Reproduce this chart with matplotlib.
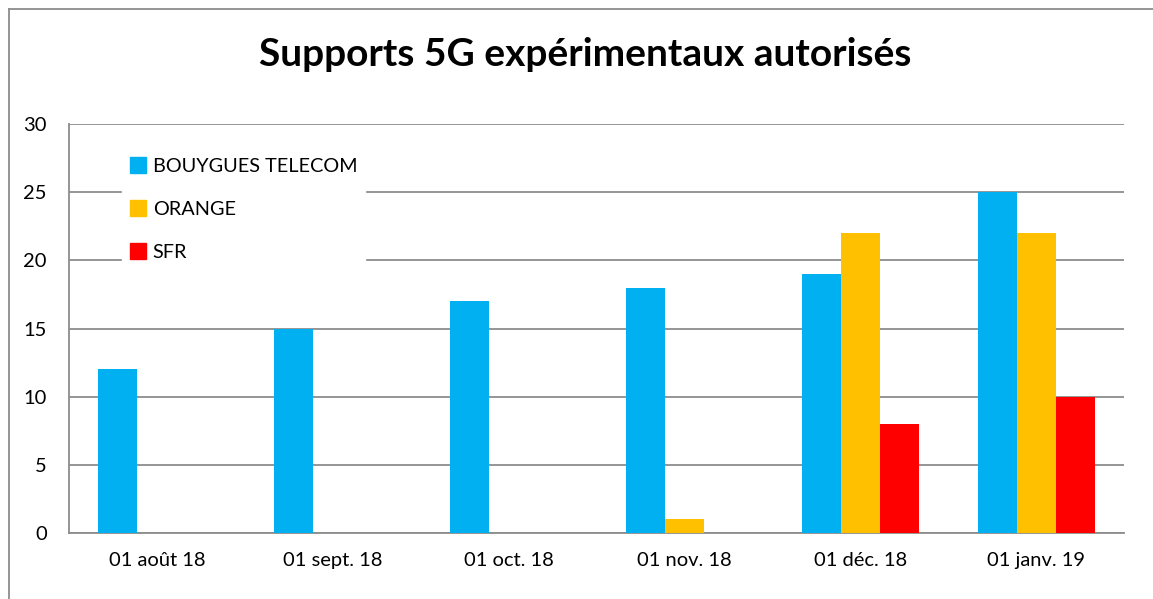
import numpy as np
from matplotlib import pyplot as plt
from matplotlib.lines import Line2D

plt.rcParams['font.family'] = ['Lato', 'DejaVu Sans']

dates = ['01 août 18', '01 sept. 18', '01 oct. 18', '01 nov. 18', '01 déc. 18', '01 janv. 19']
bouygues = [12, 15, 17, 18, 19, 25]
orange = [0, 0, 0, 1, 22, 22]
sfr = [0, 0, 0, 0, 8, 10]

series = [('BOUYGUES TELECOM', bouygues, '#00B0F0'),
          ('ORANGE', orange, '#FFC000'),
          ('SFR', sfr, '#FF0000')]

W, H = 1153, 599
fig = plt.figure(figsize=(W / 100, H / 100), dpi=100)
ax = fig.add_axes([69 / W, 1 - 533 / H, (1124 - 69) / W, (533 - 124) / H])

x = np.arange(len(dates))
width = 0.222
for i, (name, vals, col) in enumerate(series):
    ax.bar(x + (i - 1) * width, vals, width, color=col, label=name, zorder=3)

ax.set_xlim(-0.5, len(dates) - 0.5)
ax.set_ylim(0, 30)
ax.set_yticks(range(0, 31, 5))
ax.set_xticks(x)
ax.set_xticklabels(dates)
ax.tick_params(axis='both', length=0, labelsize=14.5, colors='black')
ax.tick_params(axis='y', pad=16)
ax.tick_params(axis='x', pad=14)
ax.yaxis.grid(True, color='#8C8C8C', lw=1.3, zorder=0)
ax.set_axisbelow(True)
for s in ['top', 'right']:
    ax.spines[s].set_visible(False)
for s in ['left', 'bottom']:
    ax.spines[s].set_color('#8C8C8C')
    ax.spines[s].set_linewidth(1.3)

handles = [Line2D([], [], marker='s', ls='', color=c, markersize=11) for _, _, c in series]
leg = ax.legend(handles, [n for n, _, _ in series], loc='upper left',
                bbox_to_anchor=(122 / W, 1 - 150 / H), bbox_transform=fig.transFigure,
                frameon=True, fancybox=False, framealpha=1, edgecolor='white',
                fontsize=14.3, labelspacing=1.3, handlelength=0.8, handletextpad=0.35,
                borderpad=0.4, borderaxespad=0)
leg.set_zorder(5)

fig.text(585 / W, 1 - 55 / H, 'Supports 5G expérimentaux autorisés', ha='center', va='center',
         fontsize=28, fontweight='bold')

# outer chart frame
fig.add_artist(Line2D([9 / W, 9 / W], [0, 1 - 9 / H], transform=fig.transFigure, color='#8C8C8C', lw=1.3))
fig.add_artist(Line2D([9 / W, 1], [1 - 9 / H, 1 - 9 / H], transform=fig.transFigure, color='#8C8C8C', lw=1.3))

fig.savefig('out.png', dpi=100)
